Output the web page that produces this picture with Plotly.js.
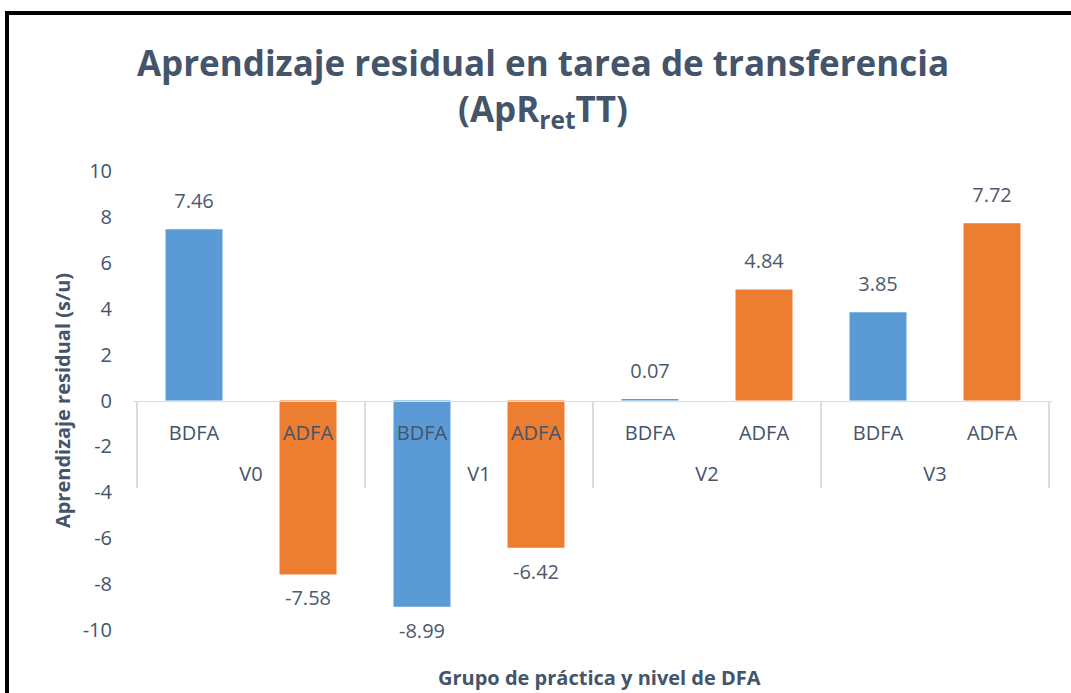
<!DOCTYPE html>
<html>
<head>
<meta charset="utf-8">
<script src="https://cdn.plot.ly/plotly-3.0.1.min.js"></script>
<style>
  html, body { margin: 0; padding: 0; background: #fff; overflow: hidden; }
  #chart { position: absolute; left: 0; top: 0; width: 1071px; height: 693px; }
  #frame { position: absolute; left: 5px; top: 11px; width: 1200px; height: 800px;
           border: 4px solid #000; pointer-events: none; box-sizing: border-box; }
</style>
</head>
<body>
<div id="chart"></div>
<div id="frame"></div>
<script>
// ---- data ----
const groups = ['V0', 'V0', 'V1', 'V1', 'V2', 'V2', 'V3', 'V3'];
const levels = ['BDFA', 'ADFA', 'BDFA', 'ADFA', 'BDFA', 'ADFA', 'BDFA', 'ADFA'];
const values = [7.46, -7.58, -8.99, -6.42, 0.07, 4.84, 3.85, 7.72];
const yTicks = [-10, -8, -6, -4, -2, 0, 2, 4, 6, 8, 10];
const levelColors = { BDFA: '#5b9bd5', ADFA: '#ed7d31' };

const titleText = '<b>Aprendizaje residual en tarea de transferencia<br>(ApR<sub>ret</sub>TT)</b>';
const yTitle = 'Aprendizaje residual (s/u)';
const xTitle = 'Grupo de práctica y nivel de DFA';

const FONT = '"Open Sans", sans-serif';
const TXT = '#44546a';

// group label row sits lower than the level row
const groupLabels = groups.map(g => '<br>' + g);

const bars = {
  type: 'bar',
  x: [groupLabels, levels],
  y: values,
  marker: { color: levels.map(l => levelColors[l]) },
  hoverinfo: 'skip'
};

const labels = {
  type: 'scatter',
  mode: 'markers+text',
  x: [groupLabels, levels],
  y: values,
  text: values.map(v => v.toFixed(2)),
  textposition: values.map(v => v >= 0 ? 'top center' : 'bottom center'),
  marker: { size: 24, color: 'rgba(0,0,0,0)' },
  cliponaxis: false,
  textfont: { family: FONT, size: 20, color: '#4d5a6c' },
  hoverinfo: 'skip'
};

const layout = {
  width: 1071, height: 693,
  margin: { l: 133, r: 18, t: 171, b: 63 },
  paper_bgcolor: '#fff', plot_bgcolor: 'rgba(0,0,0,0)',
  showlegend: false,
  bargap: 0.5,
  font: { family: FONT, color: TXT },
  title: {
    text: titleText,
    font: { family: FONT, size: 35, color: TXT },
    x: 543 / 1071, xref: 'container', xanchor: 'center',
    y: 1 - 76 / 693, yref: 'container', yanchor: 'top'
  },
  xaxis: {
    type: 'multicategory',
    anchor: 'free', position: 0.5,
    showline: true, linecolor: '#d9dde4', linewidth: 1.5,
    showdividers: true, dividercolor: '#d9dde4', dividerwidth: 1.5,
    ticks: '', showgrid: false, zeroline: false,
    ticklabelstandoff: 14,
    tickfont: { family: FONT, size: 20, color: TXT }
  },
  yaxis: {
    range: [-10, 10],
    tickvals: yTicks,
    ticktext: yTicks.map(v => String(v)),
    showgrid: false, zeroline: false, showline: false, ticks: '',
    ticklabelstandoff: 20,
    tickfont: { family: FONT, size: 20, color: TXT },
    title: { text: '<b>' + yTitle + '</b>', font: { family: FONT, size: 20, color: TXT }, standoff: 6 }
  },
  annotations: [{
    text: '<b>' + xTitle + '</b>',
    xref: 'paper', yref: 'paper', x: (599 - 133) / (1053 - 133), y: -(677 - 630) / (630 - 171),
    xanchor: 'center', yanchor: 'middle', showarrow: false,
    font: { family: FONT, size: 20, color: TXT }
  }]
};

Plotly.newPlot('chart', [bars, labels], layout, { displayModeBar: false, staticPlot: true });
</script>
</body>
</html>
